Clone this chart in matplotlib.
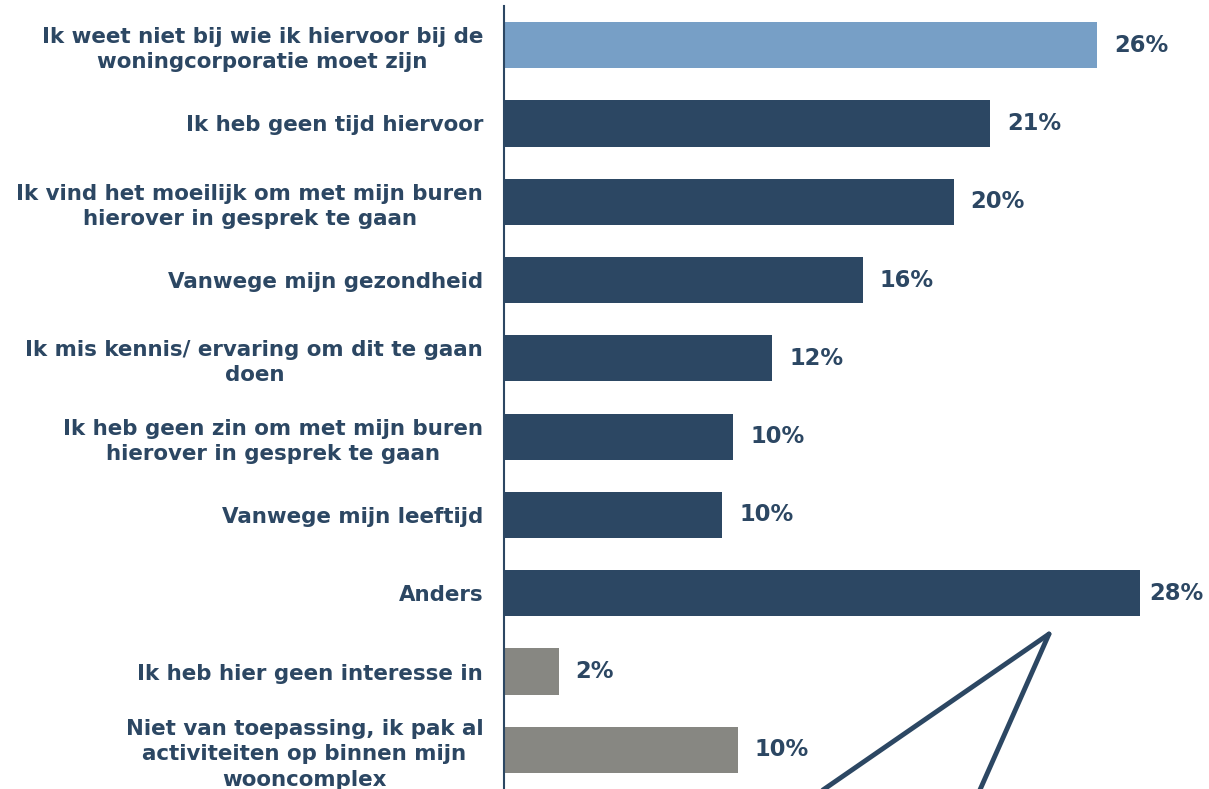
import matplotlib
matplotlib.use("Agg")
import matplotlib.pyplot as plt
from matplotlib.lines import Line2D

categories = [
    "Ik weet niet bij wie ik hiervoor bij de\nwoningcorporatie moet zijn",
    "Ik heb geen tijd hiervoor",
    "Ik vind het moeilijk om met mijn buren\nhierover in gesprek te gaan",
    "Vanwege mijn gezondheid",
    "Ik mis kennis/ ervaring om dit te gaan\ndoen",
    "Ik heb geen zin om met mijn buren\nhierover in gesprek te gaan",
    "Vanwege mijn leeftijd",
    "Anders",
    "Ik heb hier geen interesse in",
    "Niet van toepassing, ik pak al\nactiviteiten op binnen mijn\nwooncomplex",
]
values = [26.1, 21.4, 19.8, 15.8, 11.8, 10.1, 9.6, 28.0, 2.4, 10.3]
groups = ["highlight", "main", "main", "main", "main", "main", "main", "main", "other", "other"]

palette = {"highlight": "#779fc6", "main": "#2c4763", "other": "#878782"}
text_color = "#2c4763"

W, H = 1209, 789
fig = plt.figure(figsize=(W / 100, H / 100), dpi=100)
ax = fig.add_axes([504 / W, 0.0, 1 - 504 / W, 1 - 6 / H])

y = list(range(len(categories)))
ax.barh(y, values, height=0.59, color=[palette[g] for g in groups])
ax.set_ylim(len(categories) - 0.5, -0.5)
xmax = (W - 504) / 22.71
ax.set_xlim(0, xmax)

for yi, v in zip(y, values):
    # labels near the right edge sit a little closer to their bar
    offset = 0.75 if v + 3.2 < xmax else 0.42
    ax.text(v + offset, yi, f"{round(v)}%", va="center", ha="left", fontsize=16.3,
            fontweight="bold", color=text_color, clip_on=False)

ax.set_yticks(y)
ax.set_yticklabels(categories, fontsize=15.4, fontweight="bold", color=text_color,
                   linespacing=1.32)
for lbl in ax.get_yticklabels():
    lbl.set_multialignment("center")
ax.tick_params(axis="y", length=0, pad=15)

ax.set_xticks([])
for side in ["top", "right", "bottom"]:
    ax.spines[side].set_visible(False)
ax.spines["left"].set_color(text_color)
ax.spines["left"].set_linewidth(1.5)

# callout wedge pointing at the "Anders" bar
def fig_line(x0, y0, x1, y1):
    fig.add_artist(Line2D([x0 / W, x1 / W], [1 - y0 / H, 1 - y1 / H],
                          transform=fig.transFigure, color=text_color,
                          linewidth=3.5, solid_capstyle="round"))

fig_line(1049, 634, 820, 792)
fig_line(1049, 634, 979, 792)

fig.savefig("out.png", dpi=100, facecolor="white")
